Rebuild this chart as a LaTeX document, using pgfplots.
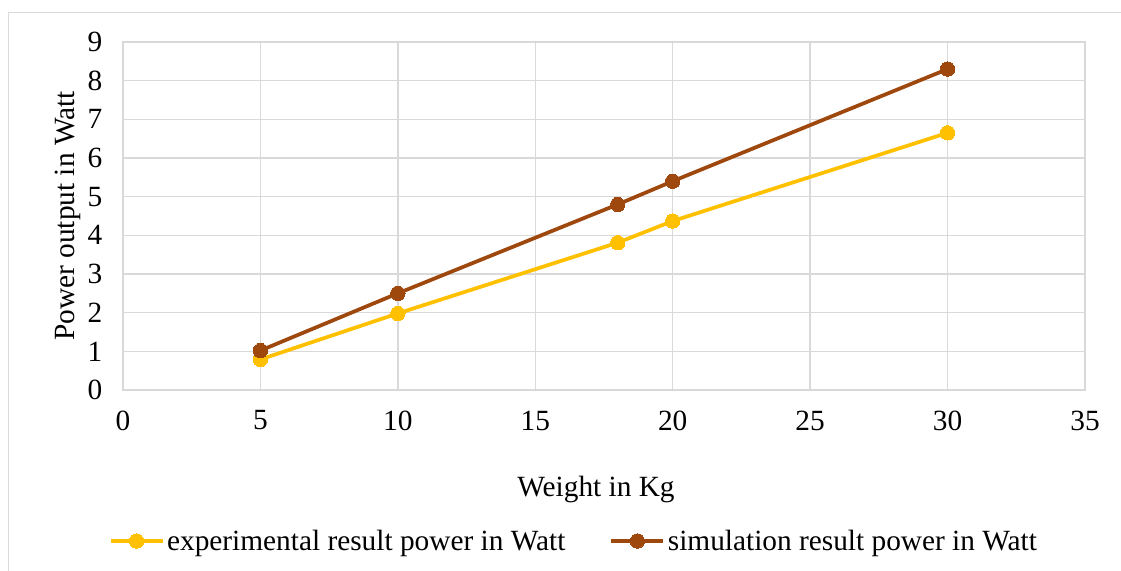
\documentclass[border=0pt]{standalone}
\usepackage{fontspec}
\setmainfont{Liberation Serif}
\usepackage{pgfplots}
\pgfplotsset{compat=1.18}
\definecolor{gridc}{HTML}{D9D9D9}
\definecolor{expc}{HTML}{FFC000}
\definecolor{simc}{HTML}{9E480E}
\begin{document}
\begin{tikzpicture}
\useasboundingbox (0pt,0pt) rectangle (840.75pt,428.25pt);
\draw[gridc,line width=1.1pt] (6.4pt,0pt) -- (6.4pt,418.9pt) -- (845pt,418.9pt);
\begin{axis}[
  at={(92.25pt,135.75pt)}, anchor=south west,
  scale only axis,
  width=721.5pt, height=261pt,
  xmin=0, xmax=35, ymin=0, ymax=9,
  xtick={0,5,...,35}, ytick={0,1,...,9},
  grid=major,
  major grid style={gridc,line width=1pt},
  axis line style={gridc,line width=1pt},
  major tick length=0pt,
  font=\rmfamily\fontsize{22}{26}\selectfont,
  /pgf/number format/assume math mode=true,
  xticklabel style={yshift=-12pt},
  yticklabel style={xshift=-12pt},
  xlabel={Weight in Kg},
  ylabel={Power output in Watt},
  xlabel style={yshift=-27pt,xshift=-6pt},
  ylabel style={yshift=-2pt},
  legend columns=2,
  legend style={at={(0.469,-0.434)},anchor=center,draw=none,fill=none,
    font=\rmfamily\fontsize{22}{26}\selectfont,
    /tikz/every even column/.append style={column sep=31pt},
    inner sep=0pt},
  legend cell align=left,
  legend image code/.code={\draw[mark repeat=2,mark phase=2,#1] plot coordinates {(0pt,0pt) (19.5pt,0pt) (39pt,0pt)};},
]
\addplot[expc,line width=2.8pt,mark=*,mark size=5.4pt,mark options={fill=expc,draw=expc,line width=0pt}] coordinates {
(5,0.79) (10,1.98) (18,3.81) (20,4.37) (30,6.65)};
\addlegendentry{experimental result power in Watt}
\addplot[simc,line width=2.8pt,mark=*,mark size=5.4pt,mark options={fill=simc,draw=simc,line width=0pt}] coordinates {
(5,1.02) (10,2.50) (18,4.80) (20,5.40) (30,8.30)};
\addlegendentry{simulation result power in Watt}
\end{axis}
\end{tikzpicture}
\end{document}
